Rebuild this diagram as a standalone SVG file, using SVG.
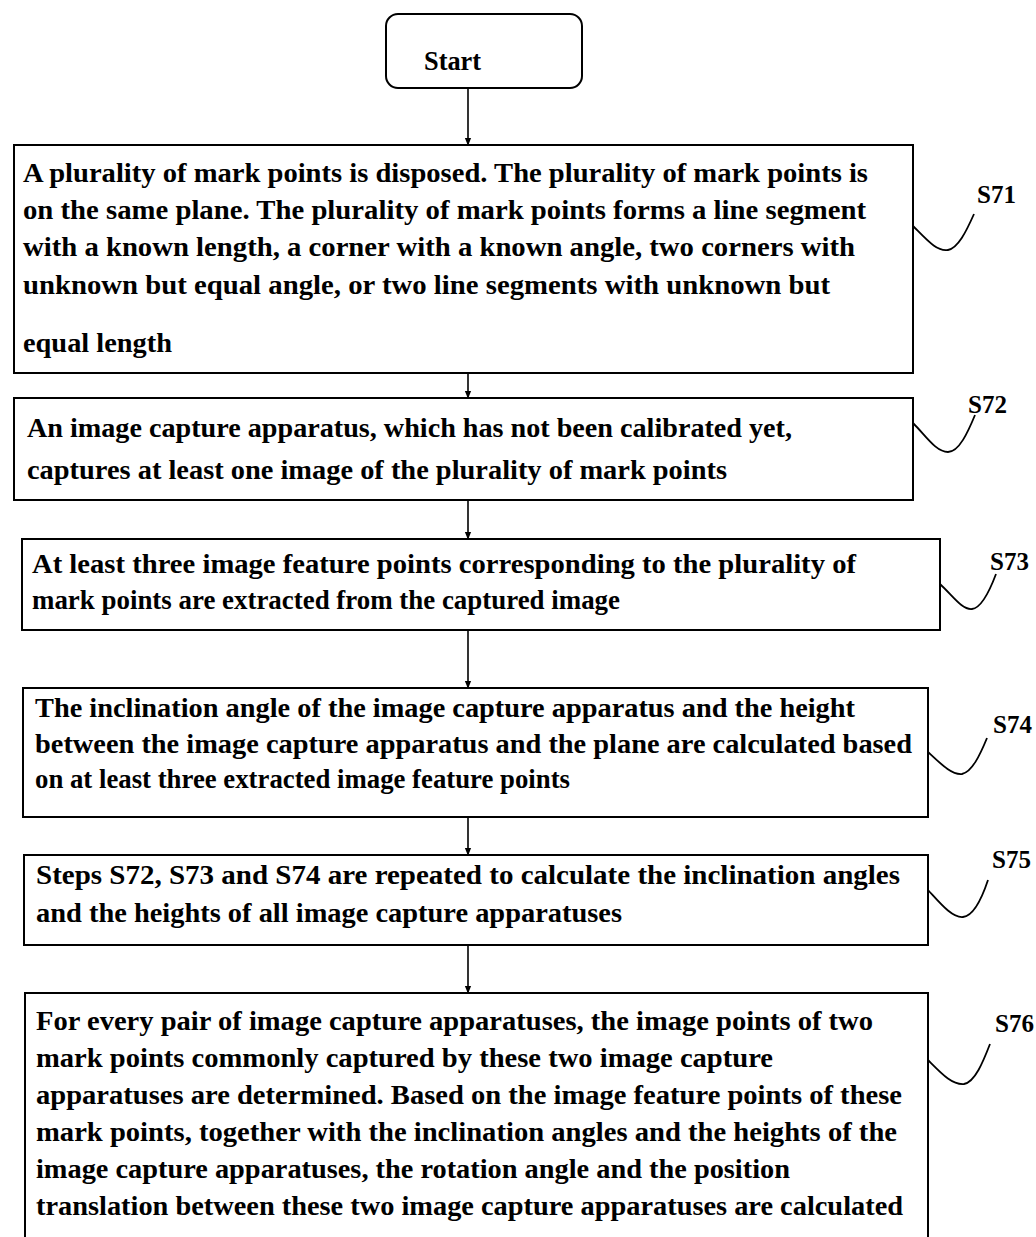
<svg xmlns="http://www.w3.org/2000/svg" width="1036" height="1237" viewBox="0 0 1036 1237">
<style>
.box{fill:#fff;stroke:#000;stroke-width:2}
.t{font-family:"Liberation Serif","Times New Roman",serif;font-weight:bold;font-size:27px;fill:#000}
.lbl{font-family:"Liberation Serif","Times New Roman",serif;font-weight:bold;font-size:25px;fill:#000}
.con{stroke:#000;stroke-width:1.6;fill:none}
.lead{stroke:#000;stroke-width:1.8;fill:none}
</style>
<defs>
<marker id="arr" markerWidth="8" markerHeight="10" refX="9" refY="4" orient="auto" markerUnits="userSpaceOnUse" viewBox="0 0 10 8">
<path d="M0,0 L10,4 L0,8 Z" fill="#000"/>
</marker>
</defs>
<rect width="1036" height="1237" fill="#fff"/>

<g id="connectors">
<line class="con" x1="468" y1="88" x2="468" y2="145" marker-end="url(#arr)"/>
<line class="con" x1="468" y1="373" x2="468" y2="398" marker-end="url(#arr)"/>
<line class="con" x1="468" y1="500" x2="468" y2="539" marker-end="url(#arr)"/>
<line class="con" x1="468" y1="630" x2="468" y2="688" marker-end="url(#arr)"/>
<line class="con" x1="468" y1="817" x2="468" y2="855" marker-end="url(#arr)"/>
<line class="con" x1="468" y1="945" x2="468" y2="993" marker-end="url(#arr)"/>
</g>

<g id="start">
<rect class="box" x="386" y="14" width="196" height="74" rx="12"/>
<text class="t" x="424" y="70" textLength="57" lengthAdjust="spacingAndGlyphs">Start</text>
</g>

<g id="s71">
<rect class="box" x="14" y="145" width="899" height="228"/>
<text class="t" x="23" y="182" textLength="845" lengthAdjust="spacingAndGlyphs">A plurality of mark points is disposed. The plurality of mark points is</text>
<text class="t" x="23" y="219" textLength="843" lengthAdjust="spacingAndGlyphs">on the same plane. The plurality of mark points forms a line segment</text>
<text class="t" x="23" y="256" textLength="832" lengthAdjust="spacingAndGlyphs">with a known length, a corner with a known angle, two corners with</text>
<text class="t" x="23" y="294" textLength="807" lengthAdjust="spacingAndGlyphs">unknown but equal angle, or two line segments with unknown but</text>
<text class="t" x="23" y="352" textLength="149" lengthAdjust="spacingAndGlyphs">equal length</text>
<path class="lead" d="M913,226 C927,240 937,252 948,250 C958,248 966,232 974,214"/>
<text class="lbl" x="977" y="203">S71</text>
</g>

<g id="s72">
<rect class="box" x="14" y="398" width="899" height="102"/>
<text class="t" x="27" y="437" textLength="765" lengthAdjust="spacingAndGlyphs">An image capture apparatus, which has not been calibrated yet,</text>
<text class="t" x="27" y="479" textLength="700" lengthAdjust="spacingAndGlyphs">captures at least one image of the plurality of mark points</text>
<path class="lead" d="M913,423 C926,436 936,452 948,452 C959,452 968,432 975,415"/>
<text class="lbl" x="968" y="413">S72</text>
</g>

<g id="s73">
<rect class="box" x="22" y="539" width="918" height="91"/>
<text class="t" x="32" y="573" textLength="824" lengthAdjust="spacingAndGlyphs">At least three image feature points corresponding to the plurality of</text>
<text class="t" x="32" y="609" textLength="588" lengthAdjust="spacingAndGlyphs">mark points are extracted from the captured image</text>
<path class="lead" d="M940,584 C953,596 962,610 972,609 C982,608 990,590 996,574"/>
<text class="lbl" x="990" y="570">S73</text>
</g>

<g id="s74">
<rect class="box" x="23" y="688" width="905" height="129"/>
<text class="t" x="35" y="717" textLength="820" lengthAdjust="spacingAndGlyphs">The inclination angle of the image capture apparatus and the height</text>
<text class="t" x="35" y="753" textLength="877" lengthAdjust="spacingAndGlyphs">between the image capture apparatus and the plane are calculated based</text>
<text class="t" x="35" y="788" textLength="535" lengthAdjust="spacingAndGlyphs">on at least three extracted image feature points</text>
<path class="lead" d="M928,752 C942,765 952,775 962,774 C972,772 980,755 987,738"/>
<text class="lbl" x="993" y="733">S74</text>
</g>

<g id="s75">
<rect class="box" x="24" y="855" width="904" height="90"/>
<text class="t" x="36" y="884" textLength="864" lengthAdjust="spacingAndGlyphs">Steps S72, S73 and S74 are repeated to calculate the inclination angles</text>
<text class="t" x="36" y="922" textLength="586" lengthAdjust="spacingAndGlyphs">and the heights of all image capture apparatuses</text>
<path class="lead" d="M928,890 C940,903 952,918 963,917 C974,916 982,898 988,880"/>
<text class="lbl" x="992" y="868">S75</text>
</g>

<g id="s76">
<rect class="box" x="25" y="993" width="903" height="260"/>
<text class="t" x="36" y="1030" textLength="837" lengthAdjust="spacingAndGlyphs">For every pair of image capture apparatuses, the image points of two</text>
<text class="t" x="36" y="1067" textLength="737" lengthAdjust="spacingAndGlyphs">mark points commonly captured by these two image capture</text>
<text class="t" x="36" y="1104" textLength="866" lengthAdjust="spacingAndGlyphs">apparatuses are determined. Based on the image feature points of these</text>
<text class="t" x="36" y="1141" textLength="861" lengthAdjust="spacingAndGlyphs">mark points, together with the inclination angles and the heights of the</text>
<text class="t" x="36" y="1178" textLength="754" lengthAdjust="spacingAndGlyphs">image capture apparatuses, the rotation angle and the position</text>
<text class="t" x="36" y="1215" textLength="867" lengthAdjust="spacingAndGlyphs">translation between these two image capture apparatuses are calculated</text>
<path class="lead" d="M928,1060 C942,1074 952,1085 964,1084 C975,1082 983,1062 990,1044"/>
<text class="lbl" x="995" y="1032">S76</text>
</g>
</svg>
